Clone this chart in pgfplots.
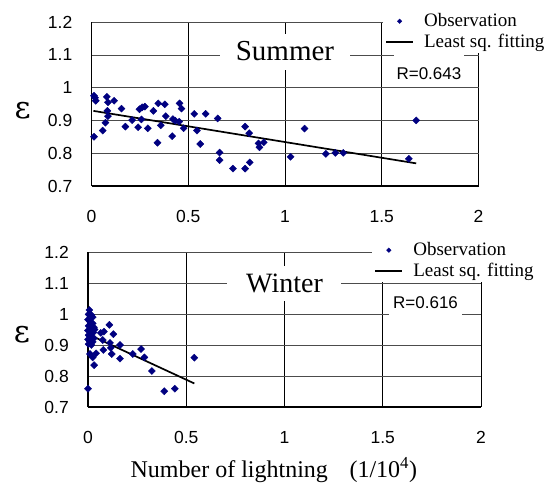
\documentclass[border=0pt]{standalone}
\usepackage{fontspec}
\setmainfont{Liberation Serif}
\newfontfamily\sansf{Liberation Sans}
\newfontfamily\epsf{DejaVu Serif}
\usepackage{pgfplots}
\pgfplotsset{compat=1.18}
\definecolor{obs}{RGB}{0,0,128}

\pgfplotstableread{
x y
0.013 0.975
0.018 0.969
0.022 0.960
0.013 0.850
0.058 0.869
0.072 0.893
0.079 0.972
0.085 0.955
0.082 0.929
0.085 0.913
0.117 0.960
0.155 0.936
0.175 0.881
0.210 0.901
0.241 0.879
0.248 0.934
0.258 0.903
0.262 0.940
0.276 0.942
0.291 0.876
0.320 0.929
0.341 0.832
0.345 0.952
0.358 0.885
0.379 0.949
0.384 0.913
0.417 0.852
0.421 0.904
0.433 0.899
0.455 0.952
0.465 0.936
0.453 0.896
0.476 0.876
0.531 0.920
0.545 0.869
0.562 0.828
0.590 0.920
0.652 0.906
0.662 0.802
0.662 0.779
0.731 0.753
0.794 0.881
0.794 0.753
0.815 0.861
0.818 0.772
0.863 0.830
0.868 0.818
0.890 0.833
1.029 0.789
1.101 0.875
1.211 0.798
1.260 0.801
1.301 0.801
1.640 0.783
1.678 0.900
}\summer

\pgfplotstableread{
x y
0.007 1.013
0.003 0.999
0.017 0.997
0.024 0.990
0.000 0.982
0.010 0.976
0.024 0.970
0.003 0.962
0.017 0.955
0.030 0.957
0.000 0.947
0.012 0.942
0.027 0.940
0.003 0.932
0.017 0.926
0.030 0.922
0.000 0.918
0.010 0.912
0.024 0.910
0.003 0.903
0.017 0.900
0.033 0.950
0.065 0.939
0.081 0.943
0.109 0.965
0.129 0.935
0.112 0.907
0.163 0.900
0.116 0.891
0.078 0.884
0.075 0.916
0.041 0.873
0.010 0.871
0.024 0.860
0.031 0.835
0.121 0.871
0.163 0.856
0.228 0.871
0.270 0.887
0.287 0.860
0.325 0.816
0.000 0.759
0.388 0.751
0.442 0.759
0.541 0.859
}\winter

\pgfplotsset{
 panel/.style={
  scale only axis, xmin=0, xmax=2, ymin=0.7, ymax=1.2,
  xtick={0,0.5,1,1.5,2}, ytick={0.7,0.8,0.9,1,1.1,1.2},
  axis x line=bottom, axis y line=left,
  axis line style={-, line width=1.2pt, black},
  major tick length=0pt,
  xmajorgrids, ymajorgrids,
  x grid style={black, line width=0.6pt},
  y grid style={black!70, line width=0.6pt},
  ticklabel style={font=\sansf\fontsize{17.5}{17.5}\selectfont},
  /pgf/number format/assume math mode=true,
  yticklabel style={inner sep=0pt, anchor=east, xshift=-19pt},
  xticklabel style={inner sep=0pt, anchor=north, yshift=-24pt},
  legend style={draw=none, fill=white, inner sep=2pt,
    font=\fontsize{19}{19}\selectfont, legend cell align=left,
    column sep=10pt, row sep=3pt,
    nodes={inner sep=0pt, text height=14pt, text depth=4pt}},
  clip=false,
 },
 obsplot/.style={only marks, mark=square*, mark size=2.5pt, color=obs,
   mark options={rotate=45, fill=obs, draw=obs},
   legend image code/.code={\draw[mark repeat=2,mark phase=2,##1, mark size=1.6pt] plot coordinates {(0pt,0pt) (13.5pt,0pt) (27pt,0pt)};}},
 fitplot/.style={black, line width=1.7pt,
   legend image code/.code={\draw[##1, line width=2pt] (0pt,0pt) -- (27pt,0pt);}},
}

\begin{document}
\begin{tikzpicture}
\useasboundingbox (0,0) rectangle (550pt,483pt);

\begin{axis}[panel, at={(91.5pt,297pt)}, anchor=south west, width=387pt, height=164pt,
  legend style={at={(0.753,1.073)}, anchor=north west}]
\addplot[obsplot] table[x=x,y=y] {\summer};
\addlegendentry{Observation}
\addplot[fitplot] coordinates {(0.01,0.929) (1.678,0.769)};
\addlegendentry{Least sq. fitting}
\node[fill=white, inner sep=0pt, minimum width=130pt, minimum height=36pt,
  font=\fontsize{29}{29}\selectfont] at (axis cs:1.0,1.11) {Summer};
\node[font=\sansf\fontsize{17}{17}\selectfont, fill=white, anchor=base,
  inner xsep=3pt, inner ysep=0pt, text height=26pt, text depth=4pt]
  at (axis cs:1.744,1.026) {R=0.643};
\node[font=\epsf\fontsize{31}{31}\selectfont] at (axis description cs:-0.178,0.457) {ε};
\end{axis}

\begin{axis}[panel, at={(88pt,76pt)}, anchor=south west, width=393pt, height=155pt,
  legend style={at={(0.723,1.084)}, anchor=north west}]
\addplot[obsplot] table[x=x,y=y] {\winter};
\addlegendentry{Observation}
\addplot[fitplot] coordinates {(0.0,0.935) (0.541,0.776)};
\addlegendentry{Least sq. fitting}
\node[fill=white, inner sep=0pt, minimum width=114pt, minimum height=35pt,
  font=\fontsize{28}{28}\selectfont] at (axis cs:1.0,1.1) {Winter};
\node[font=\sansf\fontsize{17}{17}\selectfont, fill=white, anchor=base,
  inner xsep=4pt, inner ysep=0pt, text height=20pt, text depth=10pt]
  at (axis cs:1.718,1.019) {R=0.616};
\node[font=\epsf\fontsize{31}{31}\selectfont] at (axis description cs:-0.168,0.465) {ε};
\node[font=\fontsize{24}{24}\selectfont, anchor=base] at (axis description cs:0.473,-0.458)
  {Number of lightning\hspace{0.9em}(1/10\textsuperscript{4})};
\end{axis}
\end{tikzpicture}
\end{document}
